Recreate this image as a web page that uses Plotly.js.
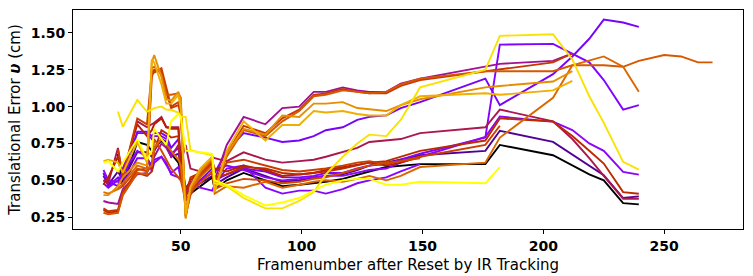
<!DOCTYPE html>
<html>
<head>
<meta charset="utf-8">
<script src="https://cdn.plot.ly/plotly-3.0.1.min.js"></script>
<style>html,body{margin:0;padding:0;background:#fff;}#chart{width:753px;height:276px;}</style>
</head>
<body>
<div id="chart"></div>
<script>
// Frame numbers (x positions shared by all runs)
const frames = [18, 20, 24, 26, 32, 36, 38, 39, 42, 44, 46, 49, 50, 52, 54, 58, 63, 64, 69, 76, 85, 92, 99, 105, 110, 117, 123, 128, 135, 141, 149, 176, 182, 204, 212, 219, 225, 233, 239.5, 250, 257, 264, 270];

// Translational error per run (cm); null = frame not recorded for that run
const runBlack = [null, null, 0.68, 0.46, 0.76, 0.74, 0.70, 0.72, 0.77, 0.74, 0.68, 0.62, 0.55, 0.43, 0.41, 0.46, 0.52, 0.44, 0.50, 0.55, 0.50, 0.46, 0.47, 0.48, 0.49, 0.51, 0.54, 0.56, 0.59, 0.60, 0.61, 0.61, 0.74, 0.67, 0.60, 0.54, 0.50, 0.345, 0.337, null, null, null, null];
const runIndigo = [0.53, 0.47, 0.56, 0.50, 0.69, 0.69, 0.66, 0.70, 0.78, 0.76, 0.66, 0.68, 0.62, 0.40, 0.44, 0.48, 0.53, 0.47, 0.52, 0.58, 0.53, 0.49, 0.50, 0.52, 0.53, 0.54, 0.57, 0.60, 0.62, 0.64, 0.67, 0.70, 0.836, 0.761, 0.675, 0.60, 0.534, 0.38, 0.391, null, null, null, null];
const runViolet1 = [0.55, 0.46, 0.52, 0.47, 0.83, 0.83, 0.80, 0.82, 0.82, 0.80, 0.72, 0.78, 0.65, 0.45, 0.46, 0.50, 0.58, 0.55, 0.70, 0.82, 0.79, 0.76, 0.77, 0.80, 0.84, 0.86, 0.91, 0.93, 0.94, 0.99, 1.03, 1.19, 1.01, 1.22, 1.34, 1.46, 1.59, 1.57, 1.54, null, null, null, null];
const runViolet2 = [0.50, 0.49, 0.46, 0.58, 0.82, 0.82, 0.78, 0.80, 0.80, 0.78, 0.68, 0.72, 0.60, 0.42, 0.47, 0.50, 0.55, 0.50, 0.54, 0.58, 0.56, 0.52, 0.52, 0.53, 0.55, 0.55, 0.58, 0.60, 0.61, 0.64, 0.68, 0.79, 1.42, 1.425, 1.36, 1.30, 1.18, 0.98, 1.01, null, null, null, null];
const runViolet3 = [0.48, 0.45, 0.50, 0.47, 0.65, 0.65, 0.60, 0.64, 0.66, 0.60, 0.55, 0.59, 0.51, 0.45, 0.48, 0.45, 0.43, 0.47, 0.58, 0.60, 0.45, 0.41, 0.43, 0.43, 0.41, 0.44, 0.48, 0.50, 0.52, 0.56, 0.61, null, null, null, null, null, null, null, null, null, null, null, null];
const runViolet4 = [0.57, 0.50, 0.49, 0.55, 0.70, 0.66, 0.56, 0.62, 0.66, 0.62, 0.54, 0.52, 0.50, 0.46, 0.43, 0.50, 0.55, 0.57, 0.60, 0.57, 0.52, 0.50, 0.51, 0.52, 0.53, 0.53, 0.55, 0.57, 0.58, 0.62, 0.66, 0.795, 0.932, 0.898, 0.841, 0.75, 0.70, 0.557, 0.539, null, null, null, null];
const runMagenta = [0.36, 0.35, 0.34, 0.44, 0.54, 0.55, 0.62, 0.66, 0.75, 0.72, 0.66, 0.74, 0.70, 0.40, 0.48, 0.55, 0.62, 0.50, 0.74, 0.93, 0.88, 0.99, 1.00, 1.10, 1.10, 1.13, 1.11, 1.10, 1.10, 1.155, 1.19, 1.27, 1.29, 1.31, 1.36, null, null, null, null, null, null, null, null];
const runCrimson = [0.50, 0.48, 0.72, 0.52, 0.90, 0.86, 0.88, 0.89, 0.93, 0.86, 0.86, 0.86, 0.62, 0.74, 0.58, 0.56, 0.66, 0.65, 0.63, 0.69, 0.64, 0.62, 0.63, 0.64, 0.66, 0.69, 0.72, 0.76, 0.77, 0.78, 0.82, 0.86, 0.98, 0.90, 0.78, 0.65, 0.53, 0.375, 0.375, null, null, null, null];
const runRed = [0.47, 0.52, 0.66, 0.55, 0.88, 0.80, 0.84, 0.88, 0.92, 0.86, 0.85, 0.85, 0.60, 0.44, 0.50, 0.56, 0.63, 0.58, 0.56, 0.60, 0.57, 0.53, 0.54, 0.55, 0.57, 0.59, 0.61, 0.62, 0.60, 0.62, 0.66, null, null, null, null, null, null, null, null, null, null, null, null];
const runRedOrange1 = [0.30, 0.28, 0.29, 0.40, 0.55, 0.53, 0.56, 0.70, 0.84, 0.82, 0.79, 0.80, 0.52, 0.38, 0.52, 0.55, 0.60, 0.52, 0.54, 0.59, 0.58, 0.55, 0.54, 0.55, 0.56, 0.58, 0.60, 0.62, 0.63, 0.66, 0.70, 0.77, 0.92, 0.898, 0.80, 0.70, 0.614, 0.42, 0.409, null, null, null, null];
const runRedOrange2 = [0.31, 0.29, 0.30, 0.42, 0.57, 0.58, 1.20, 1.25, 1.24, 1.10, 0.99, 1.01, 0.94, 0.26, 0.40, 0.52, 0.62, 0.47, 0.68, 0.87, 0.82, 0.92, 0.98, 1.08, 1.09, 1.12, 1.10, 1.09, 1.09, 1.14, 1.18, 1.24, 1.25, 1.30, 1.36, null, null, null, null, null, null, null, null];
const runRedOrange3 = [null, null, 0.71, 0.53, 0.92, 0.88, 1.24, 1.23, 1.26, 1.12, 1.00, 1.03, 0.98, 0.28, 0.43, 0.53, 0.63, 0.48, 0.62, 0.64, 0.60, 0.57, 0.56, 0.57, 0.58, 0.60, 0.62, 0.63, 0.61, 0.63, 0.66, 0.74, 0.87, null, null, null, null, null, null, null, null, null, null];
const runOrange1 = [null, null, 0.44, 0.46, 0.58, 0.56, 0.60, 0.78, 0.70, 0.64, 0.58, 0.52, 0.50, 0.36, 0.42, 0.48, 0.56, 0.44, 0.48, 0.51, 0.50, 0.48, 0.49, 0.51, 0.52, 0.55, 0.58, 0.60, 0.62, 0.63, 0.65, null, null, null, null, null, null, null, null, null, null, null, null];
const runOrange2 = [0.28, 0.27, 0.28, 0.40, 0.55, 0.54, 1.26, 1.27, 1.22, 1.08, 1.08, 1.09, 1.06, 0.25, 0.42, 0.55, 0.64, 0.45, 0.66, 0.84, 0.80, 0.90, 0.97, 1.07, 1.08, 1.11, 1.10, 1.09, 1.10, 1.15, 1.19, 1.24, 1.24, 1.24, 1.28, 1.28, 1.28, 1.27, 1.31, 1.35, 1.34, 1.30, 1.30];
const runOrange3 = [0.42, 0.41, 0.44, 0.48, 0.60, 0.58, 0.60, 0.72, 0.78, 0.74, 0.70, 0.64, 0.60, 0.30, 0.44, 0.52, 0.60, 0.41, 0.46, 0.45, 0.49, 0.45, 0.47, 0.49, 0.50, 0.49, 0.51, 0.53, 0.50, 0.53, 0.59, 0.62, 0.79, 1.06, 1.28, 1.31, 1.34, 1.27, 1.10, null, null, null, null];
const runAmber1 = [0.40, 0.40, 0.46, 0.52, 0.62, 0.60, 1.30, 1.35, 1.20, 1.05, 1.04, 1.10, 1.04, 0.24, 0.45, 0.56, 0.65, 0.43, 0.68, 0.85, 0.81, 0.94, 0.93, 1.02, 1.02, 1.03, 0.99, 0.98, 0.97, 1.01, 1.05, 1.13, 1.14, 1.17, 1.24, null, null, null, null, null, null, null, null];
const runAmber2 = [0.63, 0.64, 0.62, 0.55, 0.76, 0.62, 1.32, 1.30, 1.15, 1.02, 1.02, 1.08, 0.98, 0.27, 0.46, 0.58, 0.66, 0.42, 0.70, 0.90, 0.77, 0.875, 0.875, 0.97, 0.96, 0.97, 0.95, 0.94, 0.94, 1.01, 1.07, 1.09, 1.08, 1.11, 1.175, null, null, null, null, null, null, null, null];
const runYellow1 = [null, null, 0.966, 0.863, 1.045, 0.966, 0.98, 0.99, 1.00, 0.98, 0.977, 0.96, 0.93, 0.93, 0.705, 0.69, 0.67, 0.48, 0.46, 0.38, 0.31, 0.31, 0.36, 0.42, 0.54, 0.66, 0.75, 0.81, 0.80, 0.91, 1.13, 1.25, 1.48, 1.49, 1.32, 1.07, 0.89, 0.625, 0.573, null, null, null, null];
const runYellow2 = [0.62, 0.63, 0.56, 0.62, 0.78, 0.64, 0.70, 0.85, 0.78, 0.74, 0.90, 0.95, 0.93, 0.70, 0.70, 0.69, 0.68, 0.50, 0.47, 0.40, 0.33, 0.35, 0.38, 0.43, 0.47, 0.50, 0.51, 0.51, 0.47, 0.47, 0.49, 0.48, 0.59, null, null, null, null, null, null, null, null, null, null];

const runs = [runBlack, runIndigo, runViolet1, runViolet2, runViolet3, runViolet4, runMagenta, runCrimson, runRed,
              runRedOrange1, runRedOrange2, runRedOrange3, runOrange1, runOrange2, runOrange3, runAmber1, runAmber2, runYellow1, runYellow2];

// style: position of each run on the gnuplot colormap
const cmapPos = [0.0, 0.1, 0.22, 0.25, 0.27, 0.3, 0.4, 0.45, 0.5, 0.55, 0.6, 0.62, 0.66, 0.7, 0.74, 0.82, 0.88, 0.96, 1.0];
function gnuplot(t) {
  const r = Math.round(255 * Math.sqrt(t));
  const g = Math.round(255 * Math.pow(t, 3));
  const b = Math.round(255 * Math.max(0, Math.sin(2 * Math.PI * t)));
  return `rgb(${r},${g},${b})`;
}

const traces = runs.map((ys, i) => ({
  type: 'scatter', mode: 'lines', x: frames, y: ys,
  connectgaps: false, showlegend: false, hoverinfo: 'skip',
  line: {color: gnuplot(cmapPos[i]), width: 1.9}
}));

const tickFont = {family: 'DejaVu Sans', size: 14, color: '#000', weight: 'bold'};
const layout = {
  width: 753, height: 276,
  margin: {l: 73, r: 10, t: 10, b: 47, pad: 0},
  paper_bgcolor: '#fff', plot_bgcolor: '#fff',
  font: {family: 'DejaVu Sans', color: '#000'},
  xaxis: {
    range: [5.4, 282.6], tickvals: [50, 100, 150, 200, 250], ticktext: ['<b>50</b>', '<b>100</b>', '<b>150</b>', '<b>200</b>', '<b>250</b>'],
    showgrid: false, zeroline: false, showline: true, mirror: true, linecolor: '#000', linewidth: 1,
    ticks: 'outside', ticklen: 4, tickcolor: '#000', tickwidth: 1, tickfont: tickFont,
    title: {text: 'Framenumber after Reset by IR Tracking', font: {family: 'DejaVu Sans', size: 15, color: '#000'}, standoff: 6}
  },
  yaxis: {
    range: [0.17, 1.655], tickvals: [0.25, 0.5, 0.75, 1.0, 1.25, 1.5], ticktext: ['<b>0.25</b>', '<b>0.50</b>', '<b>0.75</b>', '<b>1.00</b>', '<b>1.25</b>', '<b>1.50</b>'],
    showgrid: false, zeroline: false, showline: true, mirror: true, linecolor: '#000', linewidth: 1,
    ticks: 'outside', ticklen: 4, tickcolor: '#000', tickwidth: 1, tickfont: tickFont,
    title: {text: 'Translational Error <b><i>υ</i></b> (cm)', font: {family: 'DejaVu Sans', size: 15, color: '#000'}, standoff: 6}
  }
};

Plotly.newPlot('chart', traces, layout, {staticPlot: true, displayModeBar: false});
</script>
</body>
</html>
